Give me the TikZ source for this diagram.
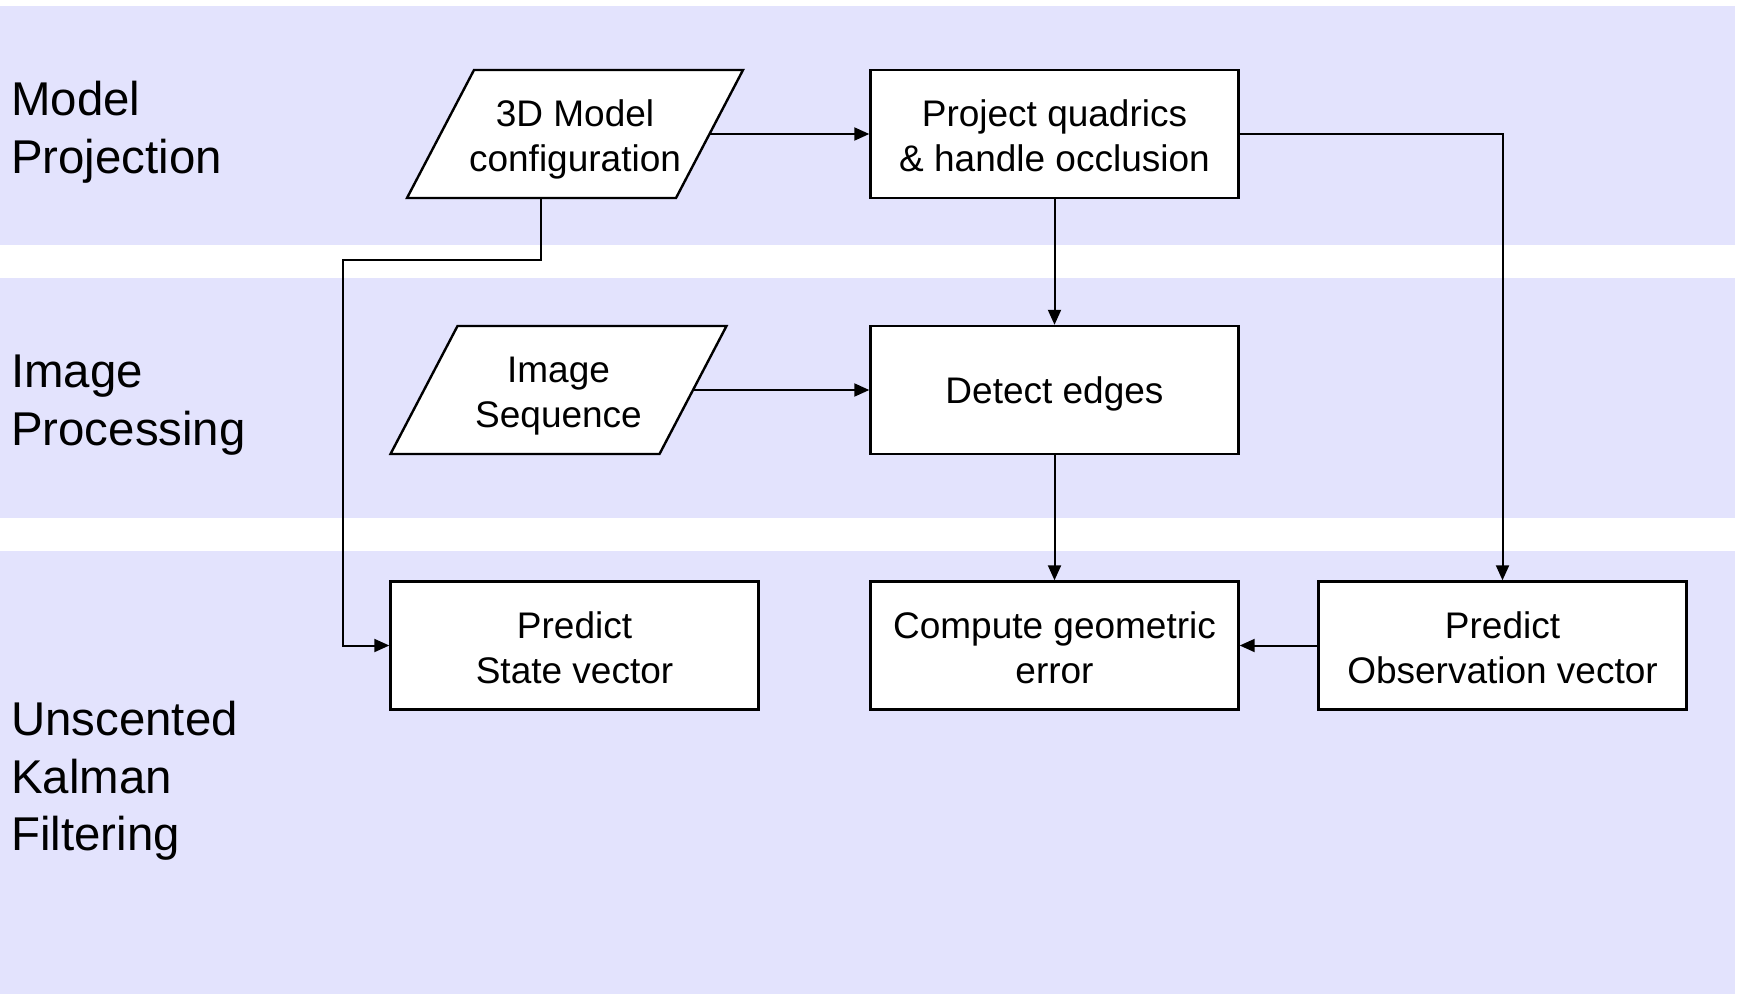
\documentclass[tikz,border=0pt]{standalone}
\usepackage{fontspec}
\setmainfont{Liberation Sans}
\usetikzlibrary{arrows.meta,calc}
\definecolor{band}{RGB}{227,227,253}
\begin{document}
\begin{tikzpicture}[x=1pt,y=-1pt,
  boxnode/.style={draw=black,line width=2.4pt,fill=white,minimum width=368pt,minimum height=128pt,inner sep=0pt,align=center,font=\fontsize{37}{45}\selectfont,execute at begin node={\rule{0pt}{34.5pt}}},
  paratext/.style={minimum width=269pt,minimum height=128pt,inner sep=0pt,align=center,font=\fontsize{37}{45}\selectfont,execute at begin node={\rule{0pt}{82pt}}},
  twoline/.style={execute at begin node={\rule{0pt}{76pt}}},
  paraline/.style={draw=black,line width=2.4pt,fill=white},
  lane/.style={anchor=west,inner sep=0pt,align=left,font=\fontsize{47.4}{57.6}\selectfont},
  arr/.style={line width=2pt,-{Triangle[length=15pt,width=13pt]}}]
\useasboundingbox (0,0) rectangle (1738,994);
% bands
\fill[band] (0,5.5) rectangle (1735,245);
\fill[band] (0,278) rectangle (1735,518);
\fill[band] (0,551) rectangle (1735,994);
% lane labels
\node[lane] (l1) at (11,132.5) {Model\\Projection};
\node[lane] (l2) at (11,405) {Image\\Processing};
\node[lane] (l3) at (11,781) {Unscented\\Kalman\\Filtering};
% parallelogram 3D model
\path (575,134) coordinate (cfgc);
\draw[paraline] ($(cfgc)+(-101,-64)$) -- ($(cfgc)+(168,-64)$) -- ($(cfgc)+(101,64)$) -- ($(cfgc)+(-168,64)$) -- cycle;
\node[paratext] (cfg) at (cfgc) {3D Model\\configuration};
% parallelogram image sequence
\path (558.5,390) coordinate (seqc);
\draw[paraline] ($(seqc)+(-101,-64)$) -- ($(seqc)+(168,-64)$) -- ($(seqc)+(101,64)$) -- ($(seqc)+(-168,64)$) -- cycle;
\node[paratext] (seq) at (seqc) {Image\\Sequence};
% boxes
\node[boxnode,twoline] (proj) at (1054.5,134) {Project quadrics\\\& handle occlusion};
\node[boxnode] (det) at (1054.5,390) {Detect edges};
\node[boxnode,twoline] (state) at (574.5,645.5) {Predict\\State vector};
\node[boxnode,twoline] (comp) at (1054.5,645.5) {Compute geometric\\error};
\node[boxnode,twoline] (obs) at (1502.5,645.5) {Predict\\Observation vector};
% connectors
\coordinate (k1) at (342.5,259.5);
\draw[arr] (cfg.east) -- (proj.west);
\draw[arr] ([xshift=-34pt]cfg.south) |- (k1) |- (state.west);
\draw[arr] (proj.south) -- (det.north);
\draw[arr] (proj.east) -| (obs.north);
\draw[arr] (seq.east) -- (det.west);
\draw[arr] (det.south) -- (comp.north);
\draw[arr] (obs.west) -- (comp.east);
\end{tikzpicture}
\end{document}
